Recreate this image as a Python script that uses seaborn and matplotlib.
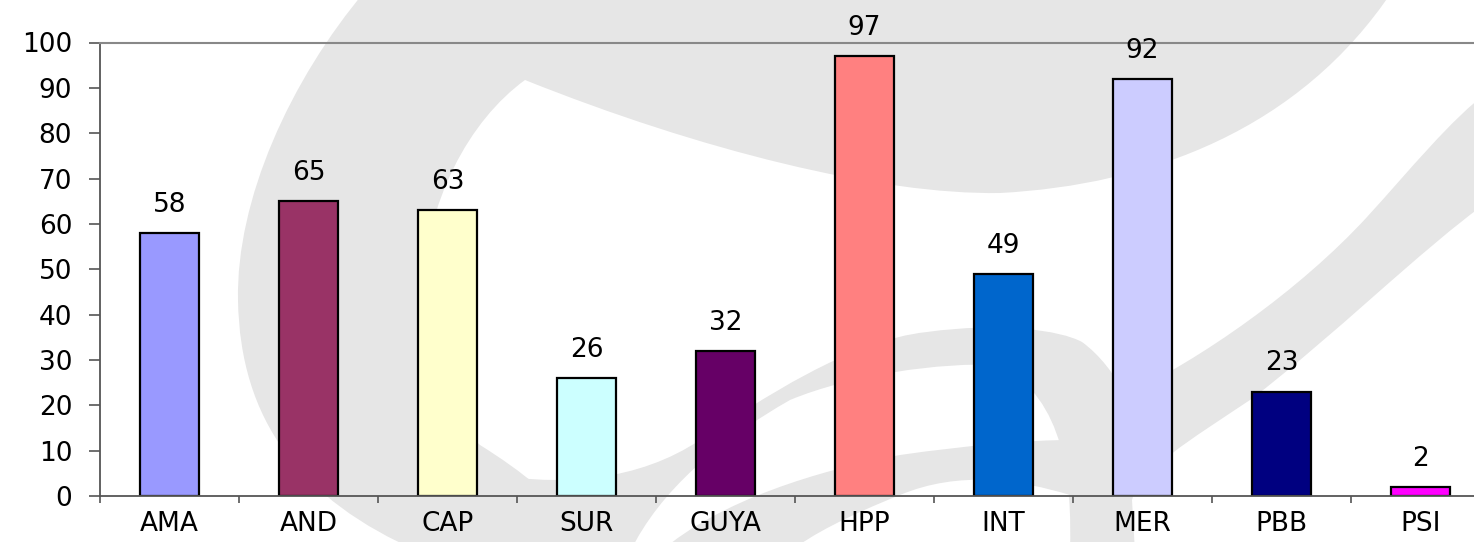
import numpy as np
import pandas as pd
import matplotlib
matplotlib.use("Agg")
import matplotlib.pyplot as plt
from matplotlib.path import Path
from matplotlib.patches import PathPatch
from matplotlib.transforms import Affine2D
import seaborn as sns

# ---- data ----
categories = ["AMA", "AND", "CAP", "SUR", "GUYA", "HPP", "INT", "MER", "PBB", "PSI"]
values = [58, 65, 63, 26, 32, 97, 49, 92, 23, 2]
bar_colors = ["#9999FF", "#993366", "#FFFFCC", "#CCFFFF", "#660066",
              "#FF8080", "#0066CC", "#CCCCFF", "#000080", "#FF00FF"]
y_ticks = list(range(0, 101, 10))

W, H = 1474, 542
FS = 19

sns.set_theme(style="white")
plt.rcParams["font.family"] = ["DejaVu Sans"]

fig = plt.figure(figsize=(W / 100, H / 100), dpi=100)
fig.patch.set_facecolor("white")

# light grey background watermark (pixel coords, y down)
px = Affine2D().scale(1 / W, -1 / H).translate(0, 1) + fig.transFigure
M, C, L, Z = Path.MOVETO, Path.CURVE4, Path.LINETO, Path.CLOSEPOLY


def blob(segs):
    verts, codes = [], []
    for code, pts in segs:
        for p in pts:
            verts.append(p)
            codes.append(code)
    verts.append(verts[0])
    codes.append(Z)
    return Path(verts, codes)


shape_a = blob([
    (M, [(366, -10)]),
    (C, [(290, 80), (236, 200), (238, 300)]),
    (C, [(240, 420), (300, 500), (420, 552)]),
    (L, [(600, 552)]),
    (C, [(560, 500), (520, 470), (480, 445)]),
    (C, [(440, 410), (415, 360), (421, 300)]),
    (C, [(425, 200), (470, 120), (525, 80)]),
    (C, [(700, 150), (880, 195), (1000, 193)]),
    (C, [(1150, 185), (1300, 130), (1393, -10)]),
])
shape_b = blob([
    (M, [(470, 470)]),
    (C, [(560, 490), (640, 480), (700, 440)]),
    (C, [(760, 400), (850, 340), (927, 332)]),
    (C, [(1000, 322), (1060, 330), (1082, 342)]),
    (C, [(1100, 355), (1115, 375), (1125, 395)]),
    (C, [(1200, 360), (1300, 290), (1367, 217)]),
    (C, [(1410, 170), (1450, 120), (1490, 90)]),
    (L, [(1490, 200)]),
    (C, [(1420, 250), (1330, 340), (1250, 400)]),
    (C, [(1190, 440), (1140, 470), (1132, 500)]),
    (L, [(1135, 552)]),
    (L, [(1070, 552)]),
    (C, [(1072, 480), (1065, 400), (1000, 365)]),
    (C, [(940, 362), (850, 375), (790, 400)]),
    (C, [(720, 440), (660, 490), (630, 552)]),
    (L, [(470, 552)]),
])
shape_c = blob([
    (M, [(660, 552)]),
    (C, [(720, 500), (820, 470), (900, 455)]),
    (C, [(970, 445), (1030, 440), (1070, 440)]),
    (L, [(1070, 495)]),
    (C, [(1020, 480), (960, 470), (900, 495)]),
    (C, [(850, 515), (810, 535), (790, 552)]),
])
for shp in (shape_a, shape_b, shape_c):
    fig.add_artist(PathPatch(shp, transform=px, facecolor="#e6e6e6",
                             edgecolor="none", zorder=-5))

ax = fig.add_axes([100 / W, 46 / H, 1390 / W, 453.5 / H])
ax.set_facecolor("none")

df = pd.DataFrame({"cat": categories, "val": values})
sns.barplot(data=df, x="cat", y="val", hue="cat", palette=bar_colors,
            legend=False, width=0.425, saturation=1,
            edgecolor="black", linewidth=1.6, ax=ax)

for cont in ax.containers:
    ax.bar_label(cont, fmt="%d", padding=11, fontsize=FS, color="black")

ax.set_xlim(-0.5, len(categories) - 0.5)
ax.set_ylim(0, 100)
ax.set_yticks(y_ticks)
ax.set_yticklabels([str(t) for t in y_ticks], fontsize=FS)

# category labels on minor ticks, boundary marks on major ticks
ax.set_xticks(np.arange(len(categories) + 1) - 0.5)
ax.set_xticklabels([])
ax.set_xticks(np.arange(len(categories)), minor=True)
ax.set_xticklabels(categories, minor=True, fontsize=FS)
ax.tick_params(axis="x", which="major", direction="out", length=5, width=1.2,
               color="#555555", bottom=True)
ax.tick_params(axis="x", which="minor", length=0, pad=11, bottom=True,
               labelcolor="black")
ax.tick_params(axis="y", direction="out", length=8, width=1.2,
               color="#555555", pad=12, left=True, labelcolor="black")

ax.set_xlabel("")
ax.set_ylabel("")
ax.grid(False)
for side in ["left", "bottom"]:
    ax.spines[side].set_color("#555555")
    ax.spines[side].set_linewidth(1.3)
ax.spines["top"].set_color("#888888")
ax.spines["top"].set_linewidth(1.5)
ax.spines["right"].set_visible(False)

plt.savefig("out.png", dpi=100)
plt.close()
